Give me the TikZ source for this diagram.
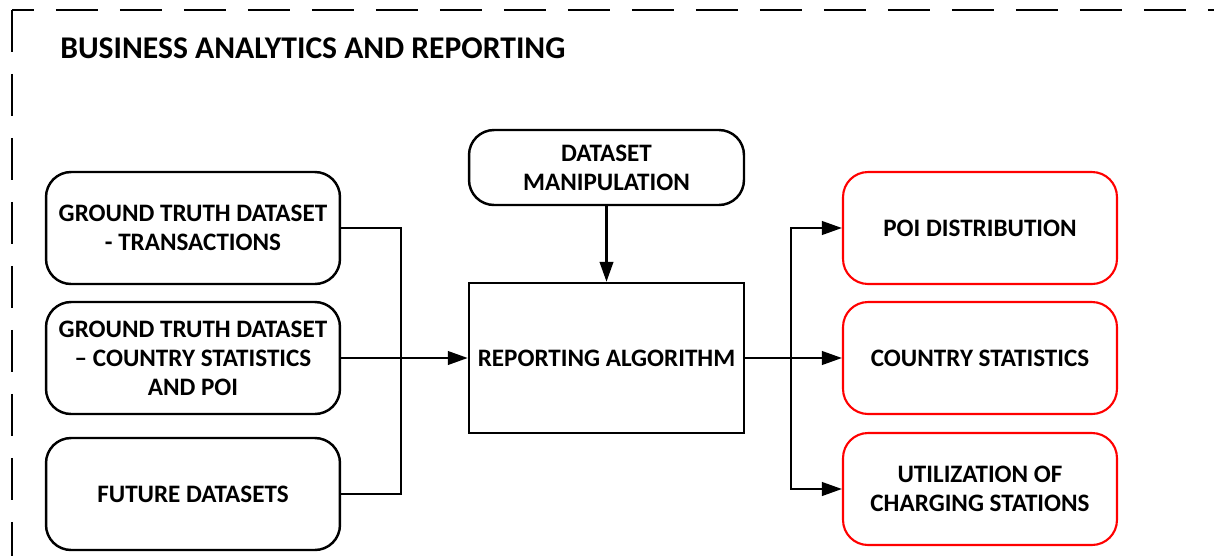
\documentclass[tikz,border=0pt]{standalone}
\usepackage{fontspec}
\setmainfont{Carlito}
\usetikzlibrary{arrows.meta}

\newcommand{\boxfont}{\fontsize{14.3}{16.5}\selectfont\bfseries}

\begin{document}
\begin{tikzpicture}[x=0.02cm,y=-0.02cm,
    box/.style={draw,line width=1.4pt,rounded corners=0.5cm,align=center,
        minimum width=5.88cm,minimum height=2.24cm,inner sep=0pt,font=\boxfont},
    outbox/.style={box,draw=red,line width=1.2pt,minimum width=5.48cm},
    link/.style={line width=1.4pt},
    arr/.style={link,-{Triangle[length=0.4cm,width=0.27cm]}},
    frame/.style={line width=1.4pt,dash pattern=on 0.84cm off 0.44cm}]
\useasboundingbox (0,0) rectangle (1214,555);
% dashed frame
\draw[frame,dash phase=0.4cm] (12,10) -- (1240,10);
\draw[frame] (12,10) -- (12,580);
\node[anchor=west,inner sep=0pt,font=\fontsize{18}{21}\selectfont\bfseries] (title) at (60,48) {BUSINESS ANALYTICS AND REPORTING};
% inputs
\node[box] (gtTrans) at (193,228) {GROUND TRUTH DATASET\\- TRANSACTIONS};
\node[box] (gtCountry) at (193,358) {GROUND TRUTH DATASET\\– COUNTRY STATISTICS\\AND POI};
\node[box] (future) at (193,494) {FUTURE DATASETS};
% processing
\node[box,minimum width=5.5cm,minimum height=1.5cm] (manip) at (606.5,167.5) {DATASET\\MANIPULATION};
\node[box,rounded corners=0pt,minimum width=5.5cm,minimum height=3cm] (report) at (606.5,358) {REPORTING ALGORITHM};
% outputs
\node[outbox] (poi) at (980,228) {POI DISTRIBUTION};
\node[outbox] (country) at (980,358) {COUNTRY STATISTICS};
\node[outbox] (util) at (980,489) {UTILIZATION OF\\CHARGING STATIONS};
% connectors
\draw[link] (gtTrans.east) -- ++(60,0) |- (future.east);
\draw[arr] (gtCountry.east) -- (report.west);
\draw[arr] (manip) -- (report);
\draw[arr] (report.east) -- (country.west);
\coordinate (split) at (791,358);
\draw[arr] (split) |- (poi.west);
\draw[arr] (split) |- (util.west);
\end{tikzpicture}
\end{document}
